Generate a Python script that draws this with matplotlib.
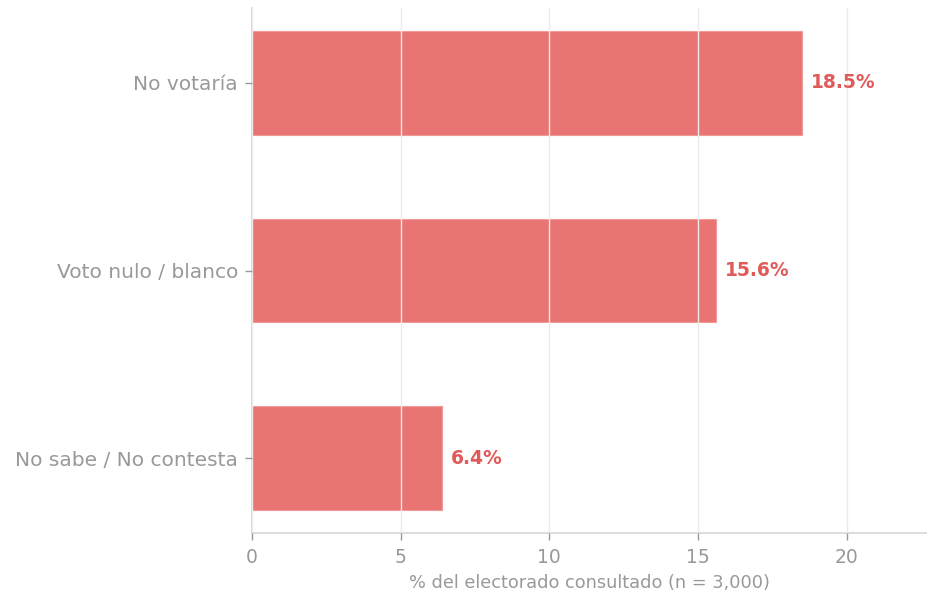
import matplotlib
matplotlib.use("Agg")
import matplotlib.pyplot as plt

# data
categorias = ["No sabe / No contesta", "Voto nulo / blanco", "No votaría"]
porcentajes = [6.4, 15.6, 18.5]
xticks = [0, 5, 10, 15, 20]

bar_color = "#E87573"
label_color = "#E05A59"
grey = "#999999"

plt.rcParams['font.family'] = ['DejaVu Sans']

fig = plt.figure(figsize=(9.27, 5.96), dpi=100)
ax = fig.add_axes([252 / 927, 63 / 596, 675 / 927, 525 / 596])

ypos = range(len(categorias))
ax.barh(ypos, porcentajes, height=0.55, color=bar_color,
        edgecolor="#F09A98", linewidth=0.8, zorder=1)

for y, v in zip(ypos, porcentajes):
    ax.text(v + 0.3, y, f"{v}%", va="center", ha="left",
            color=label_color, fontsize=13.5, fontweight="bold")

ax.set_xlim(0, 22.7)
ax.set_ylim(-0.4, 2.4)
ax.set_xticks(xticks)
ax.set_yticks(list(ypos))
ax.set_yticklabels(categorias)

ax.grid(axis="x", color="#EBEBEB", linewidth=1.0, zorder=2)
ax.set_axisbelow(False)
for s in ["top", "right"]:
    ax.spines[s].set_visible(False)
for s in ["left", "bottom"]:
    ax.spines[s].set_color("#D5D5D5")
    ax.spines[s].set_linewidth(1.2)

ax.tick_params(axis="both", colors=grey, length=5, width=1)
ax.tick_params(axis="y", pad=5, labelsize=14.5)
ax.tick_params(axis="x", pad=6, labelsize=13.5)
ax.set_xlabel("% del electorado consultado (n = 3,000)", color=grey,
              fontsize=12.8, labelpad=5)

fig.savefig("out.png", dpi=100)
